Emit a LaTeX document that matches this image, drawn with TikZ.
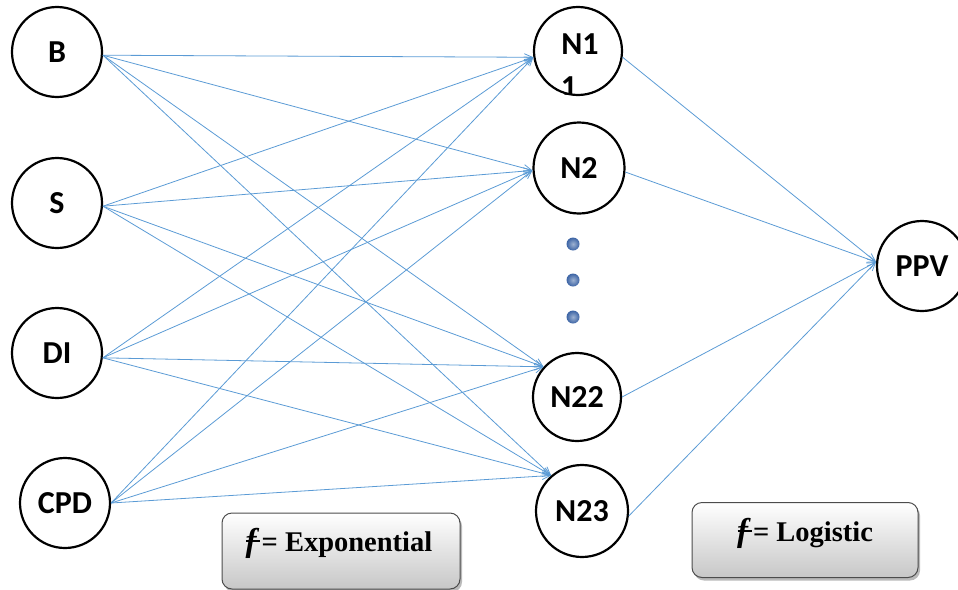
\documentclass[tikz,border=0pt]{standalone}
\usepackage{fontspec}
\setmainfont{Liberation Serif}
\newfontfamily\calibrifont{Carlito}
\usetikzlibrary{arrows.meta,shadows}
\definecolor{linkblue}{RGB}{91,155,213}
\definecolor{dotblue}{RGB}{60,100,165}
\newcommand{\barf}{{\fontsize{33}{33}\selectfont\makebox[0pt][l]{\hspace{0.02em}\raisebox{0.27em}{\rule{0.42em}{0.06em}}}\textit{f}}\hspace{0.08em}}
\begin{document}
\begin{tikzpicture}[x=1pt,y=-1pt,
  neuron/.style={circle,draw=black,line width=2.2pt,minimum size=90pt,inner sep=0pt,
    font=\calibrifont\bfseries\fontsize{32}{32}\selectfont},
  lbl/.style={inner sep=0pt,font=\calibrifont\bfseries\fontsize{32}{32}\selectfont},
  link/.style={draw=linkblue,line width=0.8pt,-{Straight Barb[length=8pt,width=7pt]}},
  dotnode/.style={circle,inner sep=0pt,minimum size=13pt,inner color=dotblue!50!white,outer color=dotblue},
  fbox/.style={rounded corners=10pt,draw=black!70,line width=1pt,top color=white,
    bottom color=black!22,drop shadow={shadow xshift=2pt,shadow yshift=-3pt,fill=black!45,opacity=0.6}},
  ftext/.style={inner sep=0pt,font=\bfseries\fontsize{28.5}{28.5}\selectfont}]
\useasboundingbox (0,0) rectangle (958,589);
% input layer
\node[neuron] (B) at (57,52) {B};
\node[neuron] (S) at (57,203) {S};
\node[neuron] (DI) at (57,353) {DI};
\node[neuron] (CPD) at (65,503) {CPD};
% hidden layer
\node[neuron,minimum size=88pt] (N1) at (578,51) {};
\node[lbl] (N1t) at (580,44) {N1};
\begin{scope}
  \clip (540,60) rectangle (610,94);
  \node[lbl,anchor=base] (N1b) at (569,97) {1};
\end{scope}
\node[neuron,minimum size=91pt] (N2) at (579,168) {N2};
\node[dotnode] (d1) at (573,244) {};
\node[dotnode] (d2) at (573,280) {};
\node[dotnode] (d3) at (573,317) {};
\node[neuron,minimum size=88pt] (N22) at (577,397) {N22};
\node[neuron,minimum size=92pt] (N23) at (582,511) {N23};
% output
\node[neuron] (PPV) at (922,266) {PPV};
% connections
\foreach \s/\a in {B/-4,S/-4,DI/-6,CPD/0}{
  \foreach \t/\b in {N1/188,N2/183,N22/138,N23/131}{
    \draw[link] (\s.\a) -- (\t.\b);
  }
}
\foreach \t/\a in {N1/-8,N2/-5,N22/0,N23/-6}{
  \draw[link] (\t.\a) -- (PPV.175);
}
% activation boxes
\node[fbox,minimum width=238pt,minimum height=76pt] (fexp) at (341,551) {};
\node[ftext] (fexpt) at (339,543) {\barf= Exponential};
\node[fbox,minimum width=226pt,minimum height=75pt] (flog) at (805,540) {};
\node[ftext] (flogt) at (805,533) {\barf= Logistic};
\end{tikzpicture}
\end{document}
